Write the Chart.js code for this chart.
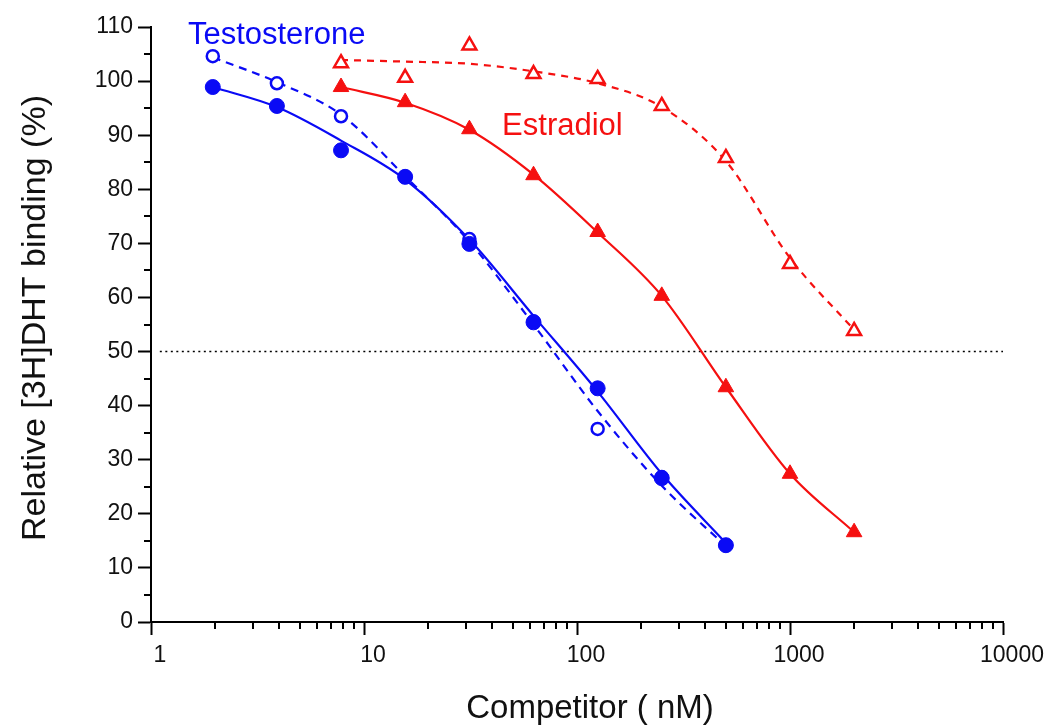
<!DOCTYPE html>
<html><head><meta charset="utf-8">
<script src="https://cdn.jsdelivr.net/npm/chart.js@4.4.1/dist/chart.umd.min.js"></script>
<style>html,body{margin:0;padding:0;background:#fff}#wrap{width:1049px;height:726px}</style>
</head><body><div id="wrap"><canvas id="c" width="1049" height="726"></canvas></div>
<script>
// ---- data ----
const doseT = [1.95, 3.9, 7.8, 15.6, 31.25, 62.5, 125, 250, 500];
const doseE = [7.8, 15.6, 31.25, 62.5, 125, 250, 500, 1000, 2000];
const testoFilled = [98.9, 95.4, 87.2, 82.3, 69.9, 55.4, 43.2, 26.6, 14.2];
const testoOpen   = [104.6, 99.6, 93.5, 82.3, 70.8, 55.6, 35.7, 26.8, 14.2];
const estrFilled  = [98.9, 96.1, 91.1, 82.6, 72.1, 60.3, 43.4, 27.4, 16.6];
const estrOpen    = [103.3, 100.6, 106.6, 101.3, 100.4, 95.4, 85.8, 66.2, 53.8];
// fitted curves at each dose
const testoFitSolid  = [98.9, 95.2, 89.0, 81.8, 70.7, 56.6, 42.6, 27.4, 14.6];
const testoFitDashed = [104.4, 99.8, 93.8, 82.4, 70.3, 55.0, 39.0, 25.2, 14.0];
const estrFitSolid   = [98.9, 96.0, 91.0, 82.7, 72.0, 60.3, 43.4, 27.4, 16.6];
const estrFitDashed  = [103.9, 103.6, 103.2, 101.8, 99.6, 95.2, 85.2, 67.3, 54.0];
const halfLine = [50, 50];
const halfLineX = [1.1, 10000];
const xTickLabels = [1, 10, 100, 1000, 10000];
const yTickLabels = [0, 10, 20, 30, 40, 50, 60, 70, 80, 90, 100, 110];
const seriesLabels = ['Testosterone', 'Estradiol'];
const xTitle = 'Competitor ( nM)';
const yTitle = 'Relative [3H]DHT binding (%)';

const BLUE = '#0a0af5', RED = '#f51010';
const FONT = "'Liberation Sans', Arial, Helvetica, sans-serif";
const pts = (xs, ys) => xs.map((x, i) => ({x, y: ys[i]}));

const decorations = {
  id: 'decorations',
  afterDraw(chart) {
    const {ctx, scales: {x, y}} = chart;
    ctx.save();
    ctx.strokeStyle = '#000'; ctx.lineWidth = 2;
    for (let d = 1; d < 10000; d *= 10) {
      for (let m = 2; m <= 9; m++) {
        const px = Math.round(x.getPixelForValue(d * m));
        ctx.beginPath(); ctx.moveTo(px, y.bottom); ctx.lineTo(px, y.bottom + 7); ctx.stroke();
      }
    }
    for (let i = 0; i < yTickLabels.length - 1; i++) {
      const py = Math.round(y.getPixelForValue(yTickLabels[i] + 5));
      ctx.beginPath(); ctx.moveTo(x.left, py); ctx.lineTo(x.left - 7, py); ctx.stroke();
    }
    // series labels
    ctx.font = "31px " + FONT;
    ctx.textBaseline = 'alphabetic'; ctx.textAlign = 'left';
    ctx.fillStyle = BLUE;
    ctx.fillText(seriesLabels[0], x.getPixelForValue(1.49), y.getPixelForValue(106.8));
    ctx.fillStyle = RED;
    ctx.fillText(seriesLabels[1], x.getPixelForValue(44.5), y.getPixelForValue(90.0));
    // axis titles
    ctx.fillStyle = '#111';
    ctx.textAlign = 'center';
    ctx.font = "33px " + FONT;
    ctx.fillText(xTitle, 590, 718);
    ctx.translate(45, 318);
    ctx.rotate(-Math.PI / 2);
    ctx.font = "34px " + FONT;
    ctx.fillText(yTitle, 0, 0);
    ctx.restore();
  }
};

const curve = (xs, ys, color, dash) => ({
  type: 'line', data: pts(xs, ys), borderColor: color, borderWidth: 2.2,
  borderDash: dash, pointRadius: 0, fill: false, cubicInterpolationMode: 'monotone', order: 5
});
const marks = (xs, ys, style, r, filled, color) => ({
  type: 'scatter', data: pts(xs, ys), pointStyle: style, pointRadius: r, pointHoverRadius: r,
  backgroundColor: filled ? color : '#fff', borderColor: color, borderWidth: filled ? 1 : 2.5,
  showLine: false, order: 1
});

new Chart(document.getElementById('c'), {
  type: 'scatter',
  data: {
    datasets: [
      {type: 'line', data: pts(halfLineX, halfLine), borderColor: '#000', borderWidth: 1.6,
       borderDash: [2, 3.5], pointRadius: 0, order: 9},
      curve(doseT, testoFitSolid, BLUE, []),
      curve(doseT, testoFitDashed, BLUE, [8, 6]),
      curve(doseE, estrFitSolid, RED, []),
      curve(doseE, estrFitDashed, RED, [7, 6]),
      marks(doseT, testoFilled, 'circle', 7.5, true, BLUE),
      marks(doseT, testoOpen, 'circle', 6, false, BLUE),
      marks(doseE, estrFilled, 'triangle', 9, true, RED),
      marks(doseE, estrOpen, 'triangle', 8, false, RED)
    ]
  },
  options: {
    responsive: false, animation: false, devicePixelRatio: 1,
    layout: {padding: {left: 0, right: 46, top: 27, bottom: 0}},
    plugins: {legend: {display: false}, tooltip: {enabled: false}},
    scales: {
      x: {
        type: 'logarithmic', min: 1, max: 10000,
        afterBuildTicks: s => { s.ticks = xTickLabels.map(v => ({value: v, major: true})); },
        afterFit: s => { s.height = 104; },
        ticks: {color: '#111', font: {family: FONT, size: 23}, padding: 7, labelOffset: 9,
                callback: v => String(v), autoSkip: false, maxRotation: 0},
        grid: {drawOnChartArea: false, tickLength: 13, tickColor: '#000', tickWidth: 2},
        border: {color: '#000', width: 2}
      },
      y: {
        min: 0, max: 110,
        afterBuildTicks: s => { s.ticks = yTickLabels.map(v => ({value: v})); },
        afterFit: s => { s.width = 151; },
        ticks: {color: '#111', font: {family: FONT, size: 23}, padding: 5},
        grid: {drawOnChartArea: false, tickLength: 13, tickColor: '#000', tickWidth: 2},
        border: {color: '#000', width: 2}
      }
    }
  },
  plugins: [decorations]
});
</script></body></html>
